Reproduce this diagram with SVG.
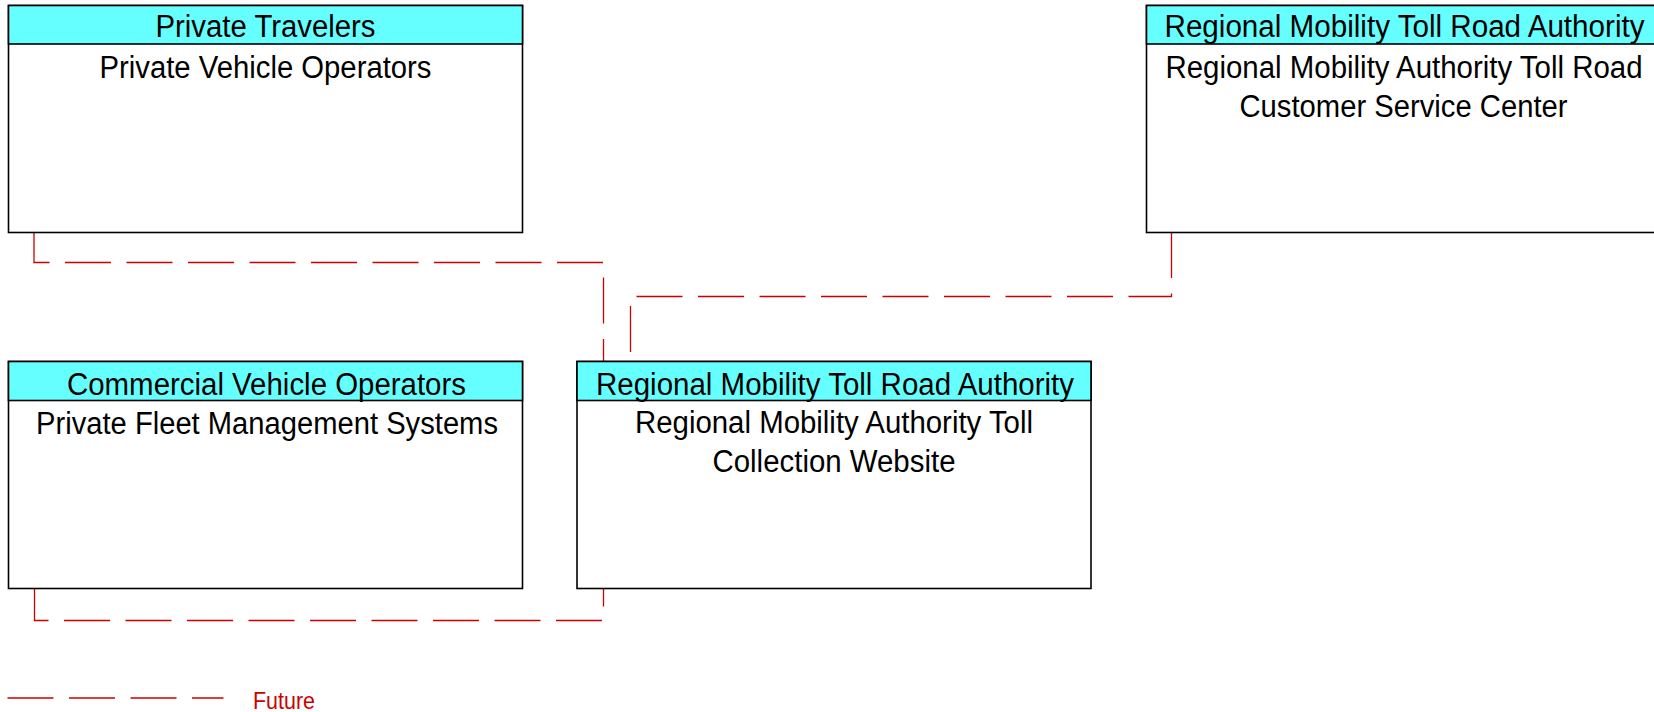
<svg xmlns="http://www.w3.org/2000/svg" width="1654" height="712" viewBox="0 0 1654 712">
<style>
.box{fill:#fff;stroke:#000;stroke-width:1.6}
.hdr{fill:#66ffff;stroke:#000;stroke-width:1.6}
.t{font-family:"Liberation Sans",Arial,sans-serif;font-size:31px;fill:#000;text-anchor:middle}
.c{fill:none;stroke:#cc0000;stroke-width:1.3;stroke-dasharray:46 15.5}
.lg{font-family:"Liberation Sans",Arial,sans-serif;font-size:24px;fill:#cc0000}
</style>
<rect width="1654" height="712" fill="#fff"/>
<g id="connectors">
<path class="c" d="M34,232 V262.5 H603.5 V361.5"/>
<path class="c" d="M1171.5,232 V296.5 H630.5 V361.5"/>
<path class="c" d="M34.5,588.5 V620.5 H603.5 V588.5"/>
</g>
<g id="private-travelers">
<rect class="box" x="8.5" y="5.5" width="514" height="227"/>
<rect class="hdr" x="8.5" y="5.5" width="514" height="38.5"/>
<text class="t" x="265.5" y="37" textLength="220" lengthAdjust="spacingAndGlyphs">Private Travelers</text>
<text class="t" x="265.5" y="77.5" textLength="332" lengthAdjust="spacingAndGlyphs">Private Vehicle Operators</text>
</g>
<g id="rma-csc">
<rect class="box" x="1146.5" y="5.5" width="516" height="227"/>
<rect class="hdr" x="1146.5" y="5.5" width="516" height="38.5"/>
<text class="t" x="1404.5" y="37" textLength="480" lengthAdjust="spacingAndGlyphs">Regional Mobility Toll Road Authority</text>
<text class="t" x="1404" y="77.5" textLength="477" lengthAdjust="spacingAndGlyphs">Regional Mobility Authority Toll Road</text>
<text class="t" x="1403.5" y="117" textLength="328" lengthAdjust="spacingAndGlyphs">Customer Service Center</text>
</g>
<g id="commercial-vehicle-operators">
<rect class="box" x="8.5" y="361.5" width="514" height="227"/>
<rect class="hdr" x="8.5" y="361.5" width="514" height="39"/>
<text class="t" x="266.5" y="394.5" textLength="399" lengthAdjust="spacingAndGlyphs">Commercial Vehicle Operators</text>
<text class="t" x="267" y="433.5" textLength="462" lengthAdjust="spacingAndGlyphs">Private Fleet Management Systems</text>
</g>
<g id="rma-toll-website">
<rect class="box" x="577" y="361.5" width="514" height="227"/>
<rect class="hdr" x="577" y="361.5" width="514" height="39"/>
<text class="t" x="835" y="394.5" textLength="478" lengthAdjust="spacingAndGlyphs">Regional Mobility Toll Road Authority</text>
<text class="t" x="834" y="433" textLength="398" lengthAdjust="spacingAndGlyphs">Regional Mobility Authority Toll</text>
<text class="t" x="834" y="472" textLength="243" lengthAdjust="spacingAndGlyphs">Collection Website</text>
</g>
<g id="legend">
<line class="c" x1="7.5" y1="698" x2="223.5" y2="698"/>
<text class="lg" x="253" y="709" textLength="62" lengthAdjust="spacingAndGlyphs">Future</text>
</g>
</svg>
